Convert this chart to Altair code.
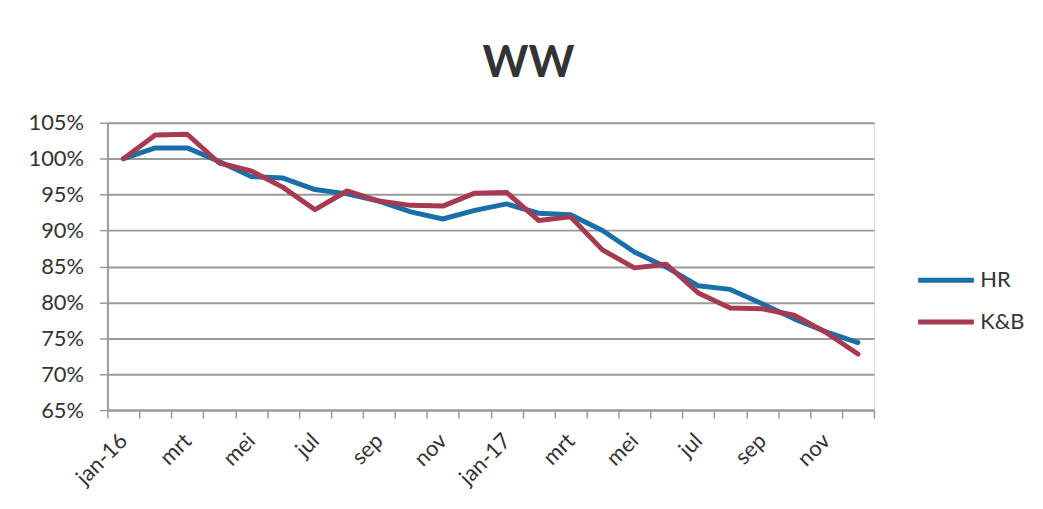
import json
import altair as alt
import pandas as pd

# ---- data -------------------------------------------------------------
month_index = list(range(24))
tick_labels = ["jan-16", "", "mrt", "", "mei", "", "jul", "", "sep", "", "nov", "",
               "jan-17", "", "mrt", "", "mei", "", "jul", "", "sep", "", "nov", ""]
series_names = ["HR", "K&B"]
hr_values = [100.0, 101.5, 101.5, 99.6, 97.5, 97.3, 95.7, 95.1, 94.1, 92.6, 91.6, 92.8,
             93.7, 92.4, 92.2, 90.0, 87.0, 84.9, 82.3, 81.8, 79.8, 77.7, 75.9, 74.4]
kb_values = [100.0, 103.3, 103.4, 99.4, 98.3, 96.0, 92.9, 95.5, 94.1, 93.5, 93.4, 95.2,
             95.3, 91.4, 91.9, 87.3, 84.8, 85.3, 81.3, 79.2, 79.1, 78.2, 75.8, 72.8]
y_ticks = [0.65, 0.70, 0.75, 0.80, 0.85, 0.90, 0.95, 1.00, 1.05]

rows = []
for name, vals in zip(series_names, [hr_values, kb_values]):
    for i, v in zip(month_index, vals):
        rows.append({"idx": i, "value": v / 100.0, "series": name})
df = pd.DataFrame(rows)

FONT = "Lato"
TEXT = "#333333"
GRID = "#9a9a9a"

x_values = [i * 0.5 - 0.5 for i in range(49)]
label_expr = ("(datum.value % 1 === 0) ? " + json.dumps(tick_labels) +
              "[datum.value] : ''")

chart = alt.Chart(df).mark_line(strokeWidth=5, strokeJoin="round", strokeCap="round").encode(
    x=alt.X("idx:Q",
            scale=alt.Scale(domain=[-0.5, 23.5], nice=False, zero=False),
            axis=alt.Axis(title=None, values=x_values, labelExpr=label_expr,
                          labelOverlap=False, labelAngle=-45, labelAlign="right",
                          labelBaseline="middle", labelFont=FONT, labelFontSize=22,
                          labelColor=TEXT, labelPadding=19, grid=False,
                          domainColor=GRID, domainWidth=2, tickColor=GRID, tickWidth=1.5,
                          tickSize=8,
                          tickOpacity={"condition": {"test": "datum.value % 1 !== 0", "value": 1}, "value": 0})),
    y=alt.Y("value:Q",
            scale=alt.Scale(domain=[0.65, 1.05], nice=False, zero=False),
            axis=alt.Axis(title=None, values=y_ticks, format=".0%", labelFont=FONT,
                          labelFontSize=22, labelColor=TEXT, labelPadding=16,
                          grid=True, gridColor=GRID, gridWidth=2,
                          domainColor=GRID, domainWidth=2, tickColor=GRID,
                          tickWidth=1.5, tickSize=8)),
    color=alt.Color("series:N",
                    scale=alt.Scale(domain=series_names, range=["#1B6FA8", "#A63A50"]),
                    legend=alt.Legend(title=None, orient="none", legendX=813, legendY=128,
                                      symbolType="stroke", symbolSize=3136,
                                      symbolStrokeWidth=5, labelFont=FONT,
                                      labelFontSize=22, labelColor=TEXT,
                                      labelOffset=4, rowPadding=0, padding=0)),
).properties(
    width=771,
    height=289,
    title=alt.TitleParams("WW", font=FONT, fontSize=44, fontWeight="bold",
                          color=TEXT, offset=26, dx=38),
    padding={"left": 20, "top": 33, "right": 10, "bottom": 5},
).configure_view(stroke=None).configure(background="white")

chart.save("out.html", embed_options={"renderer": "svg", "actions": False})
